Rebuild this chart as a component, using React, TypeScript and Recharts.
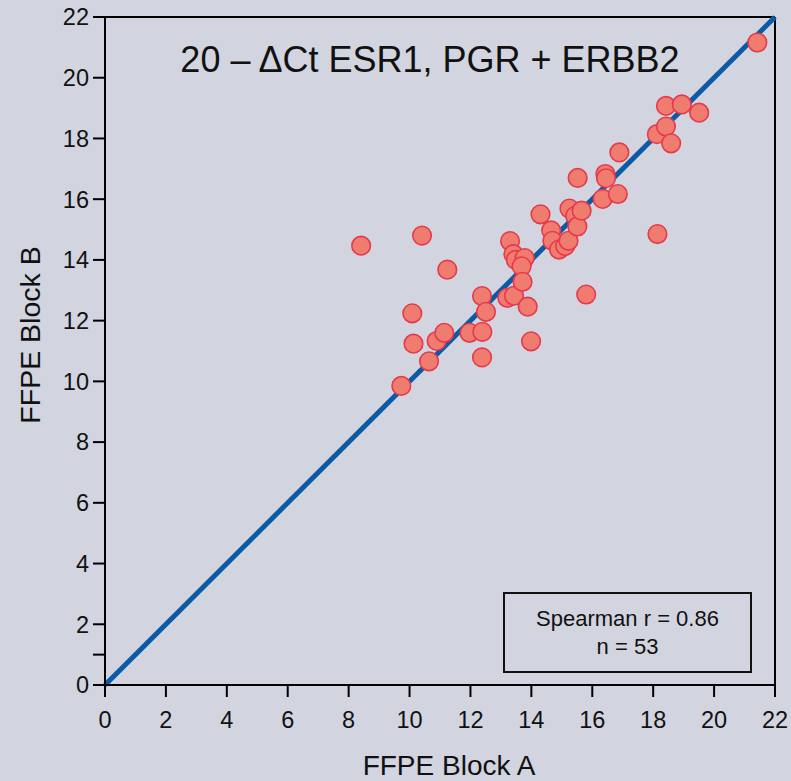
import React from "react";
import {
  ScatterChart,
  Scatter,
  XAxis,
  YAxis,
  ReferenceLine,
} from "recharts";

// FFPE Block A (x) vs FFPE Block B (y), 20 - dCt values
const blockA = [
  8.41, 10.41, 11.24, 10.09, 10.13, 9.73, 10.64, 10.89, 11.14, 11.97, 12.39, 12.38,
  12.38, 12.51, 13.21, 13.43, 13.30, 13.41, 13.49, 13.78, 13.68, 13.71, 13.88, 13.99,
  14.30, 14.65, 14.69, 14.91, 15.11, 15.22, 15.25, 15.44, 15.51, 15.65, 15.52, 15.80,
  16.34, 16.43, 16.45, 16.84, 16.89, 18.14, 18.12, 18.42, 18.42, 18.59, 18.94, 19.51,
  21.42,
];
const blockB = [
  14.47, 14.80, 13.68, 12.24, 11.24, 9.85, 10.66, 11.33, 11.60, 11.60, 11.63, 10.79,
  12.81, 12.29, 12.75, 12.82, 14.62, 14.19, 14.00, 14.06, 13.79, 13.28, 12.46, 11.32,
  15.50, 14.97, 14.63, 14.34, 14.46, 14.63, 15.69, 15.45, 15.10, 15.62, 16.70, 12.86,
  16.01, 16.83, 16.69, 16.17, 17.54, 14.85, 18.14, 18.39, 19.07, 17.84, 19.12, 18.85,
  21.16,
];
const tickValues = [0, 2, 4, 6, 8, 10, 12, 14, 16, 18, 20, 22];
const yTickValues = [0, 1, 2, 4, 6, 8, 10, 12, 14, 16, 18, 20, 22];
const title = "20 \u2013 \u0394Ct ESR1, PGR + ERBB2";
const statsLines = ["Spearman r = 0.86", "n = 53"];
const xTitle = "FFPE Block A";
const yTitle = "FFPE Block B";

const data = blockA.map((a, i) => ({ a, b: blockB[i] }));

const BG = "#d2d5df";
const FONT = "Arial, 'Liberation Sans', Helvetica, sans-serif";

const Dot = (props: any) => {
  const { cx, cy } = props;
  return (
    <circle cx={cx} cy={cy} r={9.3} fill="#f07b6f" stroke="#e63a4c" strokeWidth={1.6} />
  );
};

const XLabel = (props: any) => {
  const { viewBox } = props;
  const cx = viewBox.x + viewBox.width / 2 + 9;
  return (
    <text x={cx} y={775} textAnchor="middle" fontSize={28} fontFamily={FONT} fill="#111">
      {xTitle}
    </text>
  );
};

const YLabel = (props: any) => {
  const { viewBox } = props;
  const cy = viewBox.y + viewBox.height / 2 - 16;
  return (
    <text
      x={40}
      y={cy}
      transform={`rotate(-90, 40, ${cy})`}
      textAnchor="middle"
      fontSize={28.5}
      fontFamily={FONT}
      fill="#111"
    >
      {yTitle}
    </text>
  );
};

export default function App() {
  return (
    <div
      style={{
        position: "absolute",
        left: 0,
        top: 0,
        width: 791,
        height: 781,
        background: BG,
        fontFamily: FONT,
        overflow: "hidden",
      }}
    >
      <ScatterChart
        width={791}
        height={781}
        margin={{ top: 17, right: 16, bottom: 0, left: 0 }}
      >
        <XAxis
          type="number"
          dataKey="a"
          domain={[0, 22]}
          ticks={tickValues}
          interval={0}
          height={96}
          tickSize={12}
          tickMargin={14}
          axisLine={{ stroke: "#000", strokeWidth: 2 }}
          tickLine={{ stroke: "#000", strokeWidth: 2 }}
          tick={{ fill: "#111", fontSize: 23.5, fontFamily: FONT }}
          label={<XLabel />}
        />
        <YAxis
          type="number"
          dataKey="b"
          domain={[0, 22]}
          ticks={yTickValues}
          interval={0}
          width={105}
          tickSize={12}
          tickMargin={4}
          tickFormatter={(v: number) => (v === 1 ? "" : String(v))}
          axisLine={{ stroke: "#000", strokeWidth: 2 }}
          tickLine={{ stroke: "#000", strokeWidth: 2 }}
          tick={{ fill: "#111", fontSize: 23.5, fontFamily: FONT }}
          label={<YLabel />}
        />
        <ReferenceLine y={22} stroke="#000" strokeWidth={2} />
        <ReferenceLine x={22} stroke="#000" strokeWidth={2} />
        <ReferenceLine
          segment={[
            { x: 0, y: 0 },
            { x: 22, y: 22 },
          ]}
          stroke="#0b5aa6"
          strokeWidth={5}
        />
        <Scatter data={data} shape={<Dot />} isAnimationActive={false} />
      </ScatterChart>
      <div
        style={{
          position: "absolute",
          left: 0,
          width: 860,
          top: 39,
          textAlign: "center",
          fontSize: 36,
          lineHeight: "41px",
          color: "#111",
          whiteSpace: "nowrap",
        }}
      >
        {title}
      </div>
      <div
        style={{
          position: "absolute",
          left: 503,
          top: 592,
          width: 245,
          height: 77,
          border: "2px solid #111",
          display: "flex",
          flexDirection: "column",
          justifyContent: "center",
          alignItems: "center",
          fontSize: 22,
          lineHeight: "28px",
          color: "#111",
        }}
      >
        {statsLines.map((s) => (
          <div key={s}>{s}</div>
        ))}
      </div>
    </div>
  );
}
